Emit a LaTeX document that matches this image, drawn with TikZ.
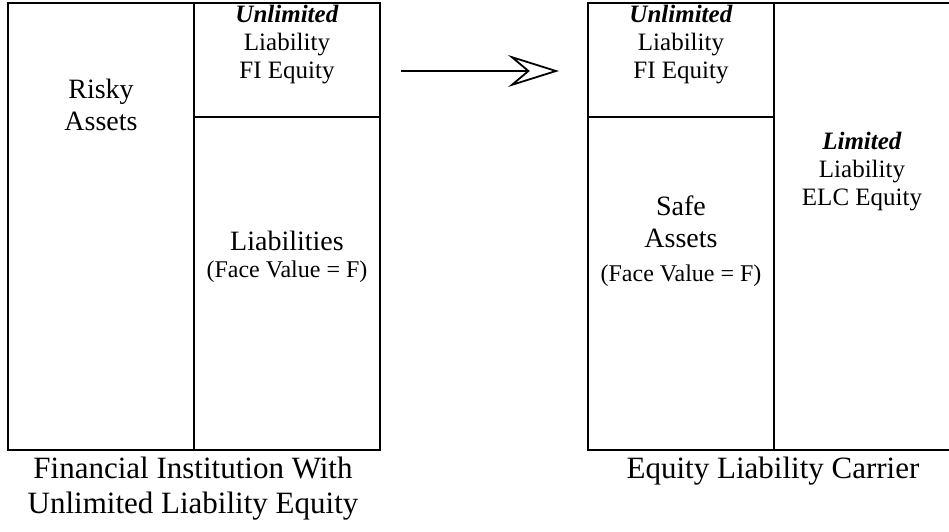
\documentclass[tikz,border=0pt]{standalone}
\usepackage{fontspec}
\setmainfont{Liberation Serif}
\usetikzlibrary{arrows.meta,positioning}
\tikzset{
  cell/.style={draw, line width=1.8pt, inner sep=0pt, outer sep=0pt, minimum width=186pt},
  boxtext/.style={align=center, font=\fontsize{25}{28}\selectfont},
  bigtext/.style={align=center, font=\fontsize{28}{32}\selectfont},
  facetext/.style={font=\fontsize{24}{28}\selectfont},
  captext/.style={align=center, font=\fontsize{31}{35}\selectfont},
}
\begin{document}
\begin{tikzpicture}[x=1pt,y=-1pt]
	\useasboundingbox (0,0) rectangle (949,531);
	% financial institution
	\node[cell, minimum height=447pt, anchor=north west] (risky) at (8,3) {};
	\node[cell, minimum height=114pt, anchor=north west] (fieqL) at (risky.north east) {};
	\node[cell, minimum height=333pt, anchor=north] (liab) at (fieqL.south) {};
	% equity liability carrier
	\node[cell, minimum height=114pt, anchor=north west] (fieqR) at (588,3) {};
	\node[cell, minimum height=333pt, anchor=north] (safe) at (fieqR.south) {};
	\node[cell, minimum height=447pt, minimum width=220pt, anchor=north west] (elc) at (fieqR.north east) {};
	% texts
	\node[bigtext] (riskyTxt) at (101,105) {Risky\\Assets};
	\node[boxtext] (fieqTxtL) at (287,45) {\textbf{\textit{Unlimited}}\\Liability\\FI Equity};
	\node[bigtext] (liabTxt) at (287,241) {Liabilities};
	\node[facetext] (faceL) at (287,272) {(Face Value = F)};
	\node[boxtext] (fieqTxtR) at (681,45) {\textbf{\textit{Unlimited}}\\Liability\\FI Equity};
	\node[bigtext] (safeTxt) at (681,222) {Safe\\Assets};
	\node[facetext] (faceR) at (681,276) {(Face Value = F)};
	\node[boxtext] (elcTxt) at (862,172) {\textbf{\textit{Limited}}\\Liability\\ELC Equity};
	\node[captext] (capL) at (193,489) {Financial Institution With\\Unlimited Liability Equity};
	\node[captext] (capR) at (773,471) {Equity Liability Carrier};
	% arrow
	\coordinate (arrS) at (401,71);
	\coordinate (arrE) at (559,71);
	\draw[line width=1.8pt, -{Stealth[open, length=51pt, width=32pt, inset=19pt]}] (arrS) -- (arrE);
\end{tikzpicture}
\end{document}
